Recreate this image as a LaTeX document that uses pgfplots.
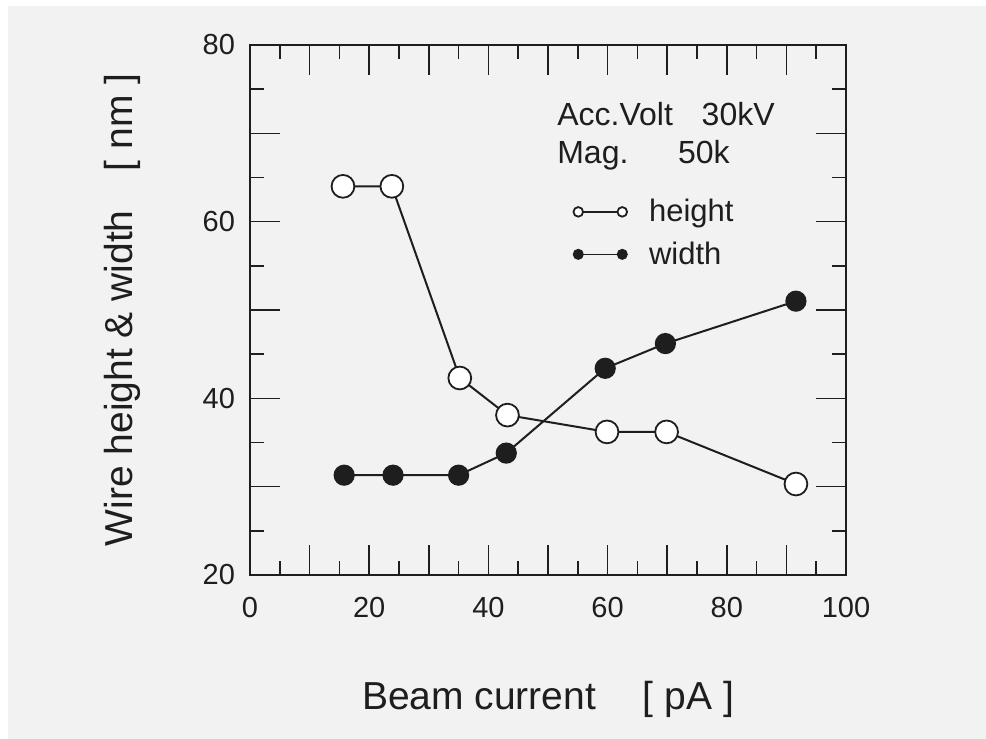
\documentclass[border=0pt]{standalone}
\usepackage{fontspec}
\setmainfont{Liberation Sans}
\usepackage{pgfplots}
\pgfplotsset{compat=1.18}

% Wire dimensions versus beam current
\pgfplotstableread{
x     h
15.6  64.0
23.8  64.0
35.2  42.3
43.2  38.1
59.9  36.2
69.9  36.2
91.6  30.3
}\heighttable
\pgfplotstableread{
x     w
15.8  31.3
24.0  31.3
35.0  31.3
43.0  33.8
59.6  43.4
69.7  46.2
91.6  51.0
}\widthtable

\definecolor{ink}{HTML}{1E1E1E}
\definecolor{paper}{HTML}{F2F2F2}

\begin{document}
\begin{tikzpicture}
\fill[paper] (-121pt,-82pt) rectangle (368pt,284.5pt);
\path[use as bounding box] (-125pt,-82pt) rectangle (368pt,287.5pt);
\begin{axis}[
  at={(0,0)}, anchor=south west,
  scale only axis,
  width=298pt, height=265pt,
  xmin=0, xmax=100, ymin=20, ymax=80,
  xtick={0,10,...,100},
  xticklabels={0,,20,,40,,60,,80,,100},
  ytick={20,30,...,80},
  yticklabels={20,,40,,60,,80},
  minor x tick num=1, minor y tick num=1,
  tick align=inside,
  major tick length=15pt, minor tick length=7pt,
  every tick/.style={ink, line width=0.8pt},
  axis line style={ink, line width=1.3pt},
  /pgf/number format/assume math mode=true,
  tick label style={font=\fontsize{14.5}{16}\selectfont, text=ink},
  xticklabel style={yshift=-7.5pt},
  yticklabel style={xshift=-4pt},
  xlabel={Beam current\hspace{1.2em}[ pA ]},
  ylabel={Wire height \& width\hspace{1.0em}[ nm ]},
  label style={font=\fontsize{19.5}{22}\selectfont, text=ink},
  xlabel style={yshift=-25pt},
  ylabel style={yshift=24pt},
  legend style={at={(axis cs:53.2,63.5)}, anchor=north west, draw=none, fill=none,
    font=\fontsize{15.5}{17}\selectfont, text=ink, row sep=4.5pt,
    legend cell align=left},
  legend image code/.code={%
    \draw[#1, mark size=2.4pt, line width=0.7pt] plot coordinates {(0pt,0pt) (22pt,0pt)};},
]
\addplot[ink, line width=1pt, mark=*, mark size=5.7pt,
  mark options={fill=white, draw=ink, line width=0.9pt}]
  table[x=x, y=h] {\heighttable};
\addlegendentry{\hspace{9pt}height}
\addplot[ink, line width=1pt, mark=*, mark size=4.8pt,
  mark options={fill=ink, draw=ink}]
  table[x=x, y=w] {\widthtable};
\addlegendentry{\hspace{9pt}width}
\node[anchor=west, font=\fontsize{16}{18}\selectfont, text=ink, inner sep=0pt]
  at (axis cs:51.5,72.2) {Acc.Volt\hspace{0.9em}30kV};
\node[anchor=west, font=\fontsize{16}{18}\selectfont, text=ink, inner sep=0pt]
  at (axis cs:51.5,67.5) {Mag.\hspace{1.55em}50k};
\end{axis}
\end{tikzpicture}
\end{document}
